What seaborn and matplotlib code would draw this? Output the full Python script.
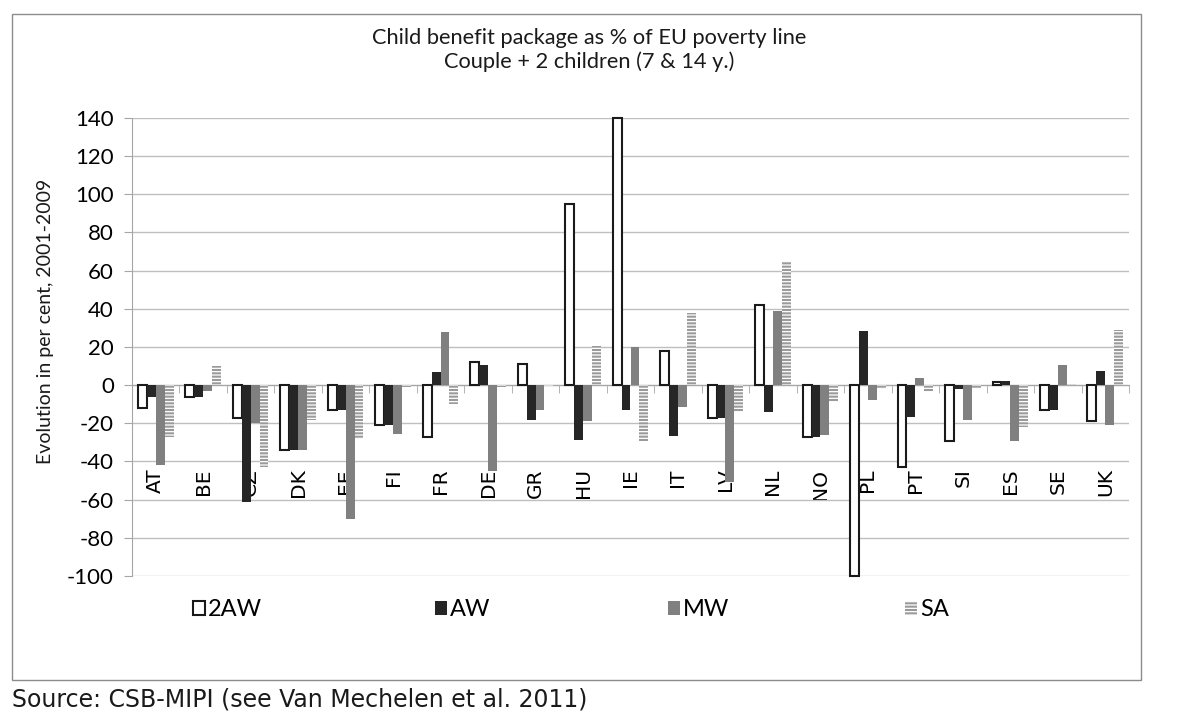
import matplotlib
matplotlib.use("Agg")
import matplotlib.pyplot as plt
from matplotlib.patches import Patch, Rectangle
from matplotlib.ticker import MultipleLocator, FixedLocator
import seaborn as sns
import pandas as pd

countries = ["AT", "BE", "CZ", "DK", "EE", "FI", "FR", "DE", "GR", "HU", "IE",
             "IT", "LV", "NL", "NO", "PL", "PT", "SI", "ES", "SE", "UK"]
series = ["2AW", "AW", "MW", "SA"]
v_2aw = [-12, -6, -17, -34, -13, -21, -27, 12, 11, 95, 140,
         18, -17, 42, -27, -100, -43, -29, 1.5, -13, -19]
v_aw = [-6, -6, -61, -34, -13, -21, 7, 10.5, -18.5, -28.5, -13,
        -26.5, -17, -14, -27, 28.5, -16.5, -2, 2.3, -13, 7.3]
v_mw = [-42, -3, -20, -34, -70, -25.5, 28, -45, -13, -19, 20,
        -11.5, -51, 39, -26, -8, 4, -18.5, -29, 10.5, -21]
v_sa = [-27, 10, -43, -18.5, -28, -1, -10, -1, -0.5, 20.5, -29,
        38, -14, 65, -9, -2, -3.5, -2, -22, 0.5, 29]

title = "Child benefit package as % of EU poverty line\nCouple + 2 children (7 & 14 y.)"
ylabel = "Evolution in per cent, 2001-2009"
source = "Source: CSB-MIPI (see Van Mechelen et al. 2011)"

df = pd.DataFrame({
    "country": countries * 4,
    "series": [s for s in series for _ in countries],
    "value": v_2aw + v_aw + v_mw + v_sa,
})

W, H = 1192, 713
fig = plt.figure(figsize=(W / 100, H / 100), dpi=100)
ax = fig.add_axes([132 / W, 1 - 576 / H, (1129 - 132) / W, (576 - 118) / H])

styles = {
    "2AW": dict(facecolor="white", edgecolor="#1a1a1a", linewidth=1.5, hatch=None),
    "AW": dict(facecolor="#262626", edgecolor="#262626", linewidth=0.0, hatch=None),
    "MW": dict(facecolor="#808080", edgecolor="#808080", linewidth=0.0, hatch=None),
    "SA": dict(facecolor="#9a9a9a", edgecolor="white", linewidth=0.0, hatch="-----"),
}
plt.rcParams["hatch.linewidth"] = 0.9

sns.barplot(data=df, x="country", y="value", hue="series", order=countries,
            hue_order=series, width=0.75, saturation=1, legend=False, ax=ax,
            palette={s: styles[s]["facecolor"] for s in series}, errorbar=None)

for s, cont in zip(series, ax.containers):
    st = styles[s]
    for p in cont:
        p.set_facecolor(st["facecolor"])
        p.set_edgecolor(st["edgecolor"])
        p.set_linewidth(st["linewidth"])
        if st["hatch"]:
            p.set_hatch(st["hatch"])
        p.set_zorder(3)
        p.set_clip_on(False)

ax.set_xlim(-0.5, len(countries) - 0.5)
ax.set_ylim(-100, 140)
ax.yaxis.set_major_locator(MultipleLocator(20))
ax.set_xlabel("")
ax.set_ylabel("")

grid_c = "#bfbfbf"
ax.grid(axis="y", color=grid_c, linewidth=1.0, zorder=0)
ax.grid(axis="x", visible=False)
ax.set_axisbelow(True)
for sp in ["top", "right"]:
    ax.spines[sp].set_visible(False)
ax.spines["left"].set_color("#a6a6a6")
ax.spines["bottom"].set_position(("data", 0))
ax.spines["bottom"].set_color("#a6a6a6")
ax.spines["bottom"].set_zorder(2)

ax.set_yticks(range(-100, 141, 20))
ax.set_yticklabels([str(v) for v in range(-100, 141, 20)], family="Lato", fontsize=16)
ax.tick_params(axis="y", length=6, color="#a6a6a6", pad=7)

ax.set_xticks(range(len(countries)))
ax.set_xticklabels(countries, rotation=90, family="DejaVu Sans", fontsize=14.5)
ax.tick_params(axis="x", which="major", length=0, pad=60)
ax.xaxis.set_minor_locator(FixedLocator([i - 0.5 for i in range(len(countries) + 1)]))
ax.tick_params(axis="x", which="minor", length=6, color="#a6a6a6", direction="out")

# frame
fig.patches.append(Rectangle((12 / W, 1 - 680 / H), (1141 - 12) / W, (680 - 14) / H,
                             transform=fig.transFigure, fill=False,
                             edgecolor="#8c8c8c", linewidth=1.0))

fig.text(589 / W, 1 - 50 / H, title, ha="center", va="center", family="Lato",
         fontsize=15.7, linespacing=1.15, color="#1a1a1a")
fig.text(46 / W, 1 - 321 / H, ylabel, rotation=90, ha="center", va="center",
         family="Lato", fontsize=14, color="#1a1a1a")
fig.text(12 / W, 1 - 699 / H, source, ha="left", va="center",
         family="DejaVu Sans", fontsize=17, color="#1a1a1a")

leg_x = [193, 435, 668, 905]
for s, x in zip(series, leg_x):
    st = styles[s]
    h = Patch(facecolor=st["facecolor"], edgecolor=st["edgecolor"],
              linewidth=st["linewidth"], hatch=st["hatch"])
    fig.legend([h], [s], loc="center left", bbox_to_anchor=(x / W, 1 - 610 / H),
               frameon=False, borderpad=0, borderaxespad=0, handlelength=0.5,
               handleheight=0.5, handletextpad=0.15,
               prop={"family": "Lato", "size": 17})

fig.savefig("out.png", dpi=100)
